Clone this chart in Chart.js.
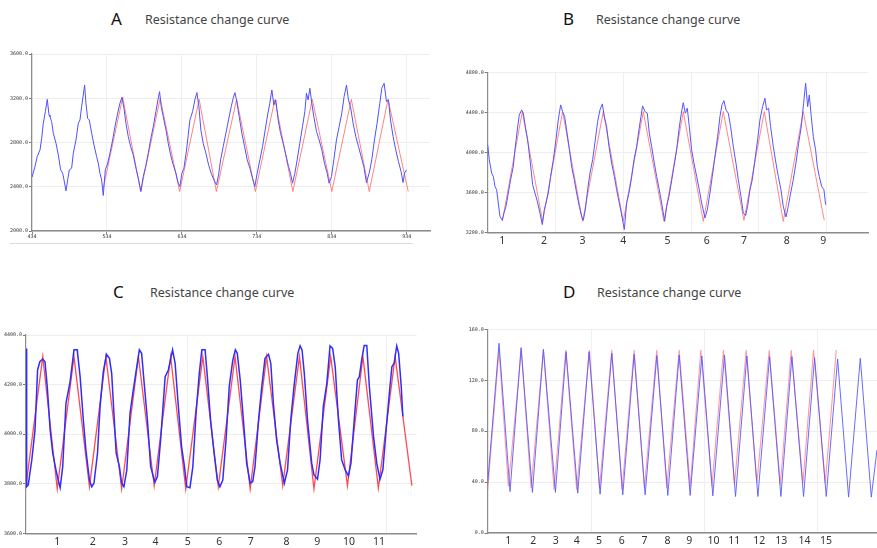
<!DOCTYPE html>
<html lang="en">
<head>
<meta charset="utf-8">
<title>Resistance change curve</title>
<style>
  body { margin: 0; background: #fff; width: 877px; height: 548px; position: relative; overflow: hidden; }
  canvas { position: absolute; }
  .letter { position: absolute; font-family: "Noto Sans", sans-serif; font-size: 17px; line-height: 20px; color: #111; }
  .title { position: absolute; font-family: "Noto Sans", sans-serif; font-size: 12.5px; line-height: 16px; color: #444; white-space: nowrap; }
  .rule { position: absolute; height: 1px; background: #dcdcdc; }
</style>
</head>
<body>

<div class="letter" style="left:111px; top:9px;">A</div>
<div class="title" style="left:145px; top:12px;">Resistance change curve</div>
<div class="letter" style="left:563px; top:9px;">B</div>
<div class="title" style="left:596px; top:12px;">Resistance change curve</div>
<div class="letter" style="left:113px; top:282px;">C</div>
<div class="title" style="left:150px; top:285px;">Resistance change curve</div>
<div class="letter" style="left:563px; top:282px;">D</div>
<div class="title" style="left:597px; top:285px;">Resistance change curve</div>

<canvas id="chartA" width="436" height="206" style="left:0; top:44px;"></canvas>
<div class="rule" style="left:10px; top:243px; width:403px;"></div>
<canvas id="chartB" width="417" height="195" style="left:460px; top:60px;"></canvas>
<canvas id="chartC" width="436" height="223" style="left:0; top:325px;"></canvas>
<canvas id="chartD" width="417" height="228" style="left:460px; top:320px;"></canvas>

<script src="https://cdn.jsdelivr.net/npm/chart.js"></script>
<script>
// ---- panel A ----
var aTicksX = [434, 534, 634, 734, 834, 934];
var aTicksY = [2000, 2400, 2800, 3200, 3600];
var aBlueX = [434,438,441,444.7,446.9,449.1,451.8,454.4, 456.7,458,460.2,462.4,466,469.1,472.2,474.9,476.7,479.3,
  481.6,483.8,486.9,489.1,492.7,495.8,498,500.2,502.4,504.2, 506,508.2,510.4,513.6,516.7,520.2,522.4,524.7,526.9,529.1,
  531.8,534.4,538,541.6,544.7,547.8,551.3,554, 556.7,559.3,562.4,565.6,569.1,572.7,575.8,579.3,
  582.4,585.6,589.1,592.2,595.8,599.3,602,604.2, 606.4,609.1,612.7,615.8,618.9,622.4,626,629.1,631.3,
  634,636.7,640.2,644.7,648.2,651.3,654, 656.7,659.3,662.4,666,669.6,673.1,676.7,680.2,
  682.9,685.6,689.1,692.7,696.2,699.8,702.4,704.7, 706.9,710.4,714,717.6,721.1,724.7,728.2,731.3,
  734.4,738,741.6,745.1,748.7,751.3,754, 756.7,759.3,762.4,765.6,769.1,772.7,776.2,778.9,781.6,
  784.7,787.8,791.3,794.9,798,800.2,802.4,804.7, 807.3,810,813.6,817.1,820.7,824.2,827.8,830.4,
  833.6,836.7,840.2,843.8,847.3,850.4,853.6, 856.2,858.9,862.4,866,869.6,873.1,876.7,880.2,
  883.8,887.3,890.9,894.4,898,900.7,903.8, 906.9,909.6,912.3,915.8,919.3,922.9,926.4,929.1,930.9,933.6];
var aBlueY = [2486,2583,2673,2733,2838,2974,3079,3190, 3049,3034,2989,2884,2793,2688,2553,2522,2462,2363,
  2462,2553,2568,2703,2823,2974,3004,3124,3230,3320, 3155,3019,3004,2884,2778,2673,2613,2522,2462,2321,
  2553,2598,2703,2823,2944,3049,3155,3209, 3109,2974,2854,2763,2688,2568,2477,2357,
  2492,2583,2703,2823,2944,3079,3185,3260, 3124,3034,2914,2793,2688,2598,2522,2432,2402,
  2522,2568,2733,3004,3079,3185,3251, 3124,2914,2793,2703,2598,2522,2462,2417,
  2507,2643,2763,2884,3004,3124,3200,3251, 3185,3034,2884,2763,2643,2568,2477,2402,
  2522,2643,2763,2914,3064,3155,3275, 3140,3185,3004,2884,2793,2688,2583,2522,2432,
  2522,2643,2793,2944,3079,3245,3185,3290, 3155,3034,2899,2823,2733,2613,2522,2432,
  2492,2643,2823,2944,3064,3215,3320, 3185,3124,2974,2854,2763,2673,2583,2438,
  2522,2643,2823,2974,3155,3290,3335, 3170,3185,3004,2854,2733,2628,2537,2438,2522,2553];
var aRedX = [529,555,579,605,631,657,680,707,732,758,782,808,834,860,884,909,936];
var aRedY = [2387,3209,2357,3200,2357,3190,2357,3190,2357,3190,2357,3190,2357,3190,2357,3190,2357];

// ---- panel B ----
var bTicksY = [3200, 3600, 4000, 4400, 4800];
var bGridX = [100, 200, 300, 400, 500];
var bLabelX = [21.5, 83, 140, 200, 265.4, 323, 378, 441, 495];
var bLabels = ['1', '2', '3', '4', '5', '6', '7', '8', '9'];
var bBlueX = [0,2.4,5.8,8.3,10.7,13.2,15.6,18.1,21.5, 24,27,30.4,33.8,37.8,40.2,43.7,46.6,50.1,
  52.5,55.5,58.9,62.4,66.3,69.7,73.2,77.1,80.5, 83.5,86,89.4,92.8,96.8,100.7,104.1,107.6,
  110.5,113.5,116.4,119.9,123.8,127.7,131.2,135.1,138.6,141, 144,147.4,150.9,154.8,158.7,162.2,165.6,169.1,
  172,175.4,178.9,182.8,186.8,190.2,193.6,197.1,201.5, 205,208.4,211.8,215.8,219.7,223.1,226.1,228.5,
  232,235.4,238.4,241.8,245.8,249.2,253.1,256.6,261, 264,267.4,270.8,274.8,278.7,282.1,285.6,288.5,
  291.5,294.4,297.4,300.8,304.3,308.2,312.1,315.6,320.5, 324,327.9,331.3,335.2,339.2,342.6,345.6,348.5,
  351.5,354.9,358.3,362.3,366.2,369.7,373.6,377,380.5, 383.4,386.9,390.3,394.2,398.2,401.6,405.5,409,
  411.4,414.4,417.3,421.3,425.2,428.7,432.6,436,440, 443.4,446.9,450.8,454.7,458.7,462.6,466,469,
  472,474.4,477.3,480.3,483.7,486.2,489.1,492.6,496,498.5];
var bBlueY = [4077,3927,3794,3760,3660,3627,3494,3360,3320, 3394,3460,3594,3727,3860,4027,4227,4377,4427,
  4394,4260,4127,3927,3677,3594,3510,3394,3277, 3427,3494,3594,3760,3927,4127,4327,4477,
  4410,4360,4227,4060,3860,3727,3594,3460,3360,3320, 3427,3627,3794,3927,4127,4310,4427,4487,
  4360,4260,4060,3894,3760,3627,3510,3394,3227, 3494,3594,3727,3927,4060,4227,4360,4467,
  4410,4394,4194,4060,3894,3760,3627,3494,3310, 3460,3560,3694,3860,4027,4227,4394,4500,
  4394,4444,4260,4027,3894,3760,3627,3494,3344, 3427,3594,3760,3960,4160,4360,4477,4520,
  4427,4394,4260,4060,3894,3727,3560,3394,3367, 3460,3627,3727,3927,4127,4327,4460,4544,
  4427,4444,4260,4060,3894,3760,3627,3460,3354, 3460,3594,3727,3894,4094,4260,4494,4694,
  4460,4577,4360,4160,4027,3860,3760,3660,3627,3477];
var bRedX = [21.5,51,81,110.5,140,170.5,200,229.5,260,288.5,318,347.5,378,408,436,465.5,496.5];
var bRedY = [3310,4410,3310,4410,3310,4410,3310,4410,3310,4410,3310,4410,3320,4410,3310,4410,3320];

// ---- panel C ----
var cTicksY = [3600, 3800, 4000, 4200, 4400];
var cGridX = [5.01, 11.2];
var cLabelX = [0.97, 2.07, 3.07, 4.02, 5.02, 6.0, 6.98, 8.09, 9.04, 10.03, 10.96];
var cLabels = ['1', '2', '3', '4', '5', '6', '7', '8', '9', '10', '11'];
var cBlueX = [0,0.02,0.07,0.18,0.28,0.36,0.43,0.52,0.59,0.66,0.75,0.83,0.93,1.0,1.06,
  1.14,1.24,1.37,1.49,1.59,1.68,1.78,1.86,1.97,2.04,
  2.11,2.22,2.3,2.4,2.5,2.59,2.66,2.8,2.9,2.97,3.04,
  3.13,3.23,3.33,3.44,3.52,3.59,3.66,3.77,3.87,4.0,
  4.08,4.18,4.32,4.42,4.55,4.63,4.73,4.83,4.92,4.99,5.09,
  5.18,5.28,5.38,5.46,5.56,5.63,5.73,5.84,5.94,6.02,
  6.11,6.21,6.31,6.42,6.5,6.56,6.65,6.75,6.85,6.96,7.04,
  7.11,7.22,7.32,7.42,7.53,7.6,7.68,7.78,7.89,8.02,
  8.12,8.22,8.32,8.44,8.51,8.57,8.64,8.74,8.87,8.94,9.05,
  9.13,9.23,9.34,9.44,9.52,9.6,9.7,9.8,9.91,10.01,
  10.09,10.19,10.29,10.35,10.42,10.5,10.58,10.66,10.79,10.89,10.99,
  11.08,11.18,11.28,11.36,11.43,11.51,11.57,11.65,11.7];
var cBlueY = [4346,3788,3795,3896,4017,4259,4292,4303,4292,4192,4017,3923,3856,3815,3784,
  3869,4124,4212,4340,4340,4232,4057,3936,3815,3788,
  3802,3923,4111,4252,4322,4306,4245,3923,3869,3802,3788,
  3856,4084,4178,4272,4340,4326,4219,4057,3869,3806,
  3829,3977,4232,4259,4340,4286,4111,3950,3869,3788,3784,
  3869,4084,4245,4340,4340,4232,4057,3923,3815,3788,
  3815,3977,4192,4299,4340,4326,4219,4057,3883,3802,3809,
  3869,4057,4192,4306,4322,4286,4124,3977,3883,3802,
  3856,4057,4192,4326,4356,4340,4245,4057,3883,3836,3818,
  3896,4111,4205,4356,4346,4272,4057,3896,3856,3831,
  3883,4057,4219,4232,4299,4358,4358,4192,3990,3883,3818,
  3856,4017,4165,4272,4286,4356,4326,4192,4071];
var cRedX = [0,0.52,0.97,1.49,1.97,2.48,2.97,3.49,3.98,4.49,4.96,5.49,5.97,6.49,6.96,7.47,7.97,8.49,8.94,9.46,9.98,10.46,10.94,11.46,11.98];
var cRedY = [3792,4313,3779,4313,3788,4313,3779,4313,3792,4313,3779,4313,3788,4313,3779,4313,3792,4313,3779,4313,3792,4313,3782,4313,3792];

// ---- panel D ----
var dTicksY = [0, 40, 80, 120, 160];
var dGridX = [4.58, 9.6, 14.61];
var dLabelX = [0.91, 2.02, 3.01, 3.94, 4.93, 5.94, 6.94, 7.96, 8.93, 10.0, 10.92, 12.03, 13.0, 14.03, 14.98];
var dLabels = ['1', '2', '3', '4', '5', '6', '7', '8', '9', '10', '11', '12', '13', '14', '15'];
var dBlueX = [0, 0.502,0.99, 1.477,1.98, 2.467,3.0, 3.471,3.988, 4.49,4.978, 5.495,5.982, 6.485,6.972, 7.489,7.976,
  8.479,8.966, 9.483,9.97, 10.487,10.975, 11.477,11.965, 12.482,12.984, 13.471,13.988, 14.476,14.993, 15.495,15.982, 16.5,16.987, 17.24];
var dBlueY = [39.2, 149,32.6, 145.6,31.9, 144.3,31.9, 142.4,31.3, 142.4,30.5, 141.1,30, 140.3,30, 139.3,29.5,
  139.8,29.5, 139,29.2, 139.8,28.7, 139,28.7, 138.5,28.7, 138.5,28.7, 137.7,28.7, 136.7,28.2, 137.2,28.2, 65.3];
var dRedX = [0,0.502,0.916,1.492,1.92,2.467,2.94,3.456,3.94,4.505,4.95,5.495,5.95,6.485,6.94,7.489,7.93,8.479,8.97,9.439,
  9.93,10.443,10.93,11.448,11.92,12.467,12.96,13.442,13.96,14.431,14.95,15.436];
var dRedY = [33.9,143.7,36.6,143.7,35.3,143.7,34,143.7,34,143.7,35.3,143.7,34,143.7,35.3,143.7,35.3,143.7,36.6,143.7,
  36.6,143.7,37.9,143.7,39.2,143.7,37.9,143.7,39.2,143.7,39.2,143.7];

function pts(xs, ys) {
  return xs.map(function (x, i) { return { x: x, y: ys[i] }; });
}

var tiny = { family: 'DejaVu Sans Mono', size: 5 };
var numFont = { family: 'Noto Sans', size: 10.5 };

function panel(id, o) {
  var scales = {
    x: {
      type: 'linear', min: o.xMin, max: o.xMax,
      afterBuildTicks: function (a) { a.ticks = o.gridX.map(function (v) { return { value: v }; }); },
      afterFit: function (a) { a.height = o.xHeight; },
      grid: { color: '#efefef', drawTicks: !!o.xTickLabels, tickLength: 3, tickColor: '#888' },
      border: { color: '#8c8c8c', width: 1.5 },
      ticks: { display: !!o.xTickLabels, font: tiny, color: '#333', padding: 0, maxRotation: 0, autoSkip: false,
               callback: function (v) { return String(v); } }
    },
    y: {
      min: o.yMin, max: o.yMax,
      afterBuildTicks: function (a) { a.ticks = o.ticksY.map(function (v) { return { value: v }; }); },
      afterFit: function (a) { a.width = o.yWidth; },
      grid: { color: '#eeeeee', tickLength: 3, tickColor: '#777' },
      border: { color: '#8c8c8c', width: 1.2 },
      ticks: { font: tiny, color: '#333', padding: 1, callback: function (v) { return v.toFixed(1); } }
    }
  };
  if (o.labelX) {
    scales.x2 = {
      type: 'linear', position: 'bottom', min: o.xMin, max: o.xMax,
      afterBuildTicks: function (a) { a.ticks = o.labelX.map(function (v) { return { value: v }; }); },
      afterFit: function (a) { a.height = o.labelHeight; },
      grid: { display: false, drawTicks: false },
      border: { display: false },
      ticks: { font: numFont, color: '#333', padding: o.labelPad, maxRotation: 0, autoSkip: false,
               callback: function (v, i) { return o.labels[i]; } }
    };
  }
  new Chart(document.getElementById(id), {
    type: 'line',
    data: {
      datasets: [
        { data: pts(o.blueX, o.blueY), borderColor: o.blue, borderWidth: o.blueW, pointRadius: 0, tension: 0 },
        { data: pts(o.redX, o.redY), borderColor: o.red, borderWidth: o.redW, pointRadius: 0, tension: 0 }
      ]
    },
    options: {
      responsive: false,
      animation: false,
      layout: { padding: o.pad },
      plugins: { legend: { display: false }, tooltip: { enabled: false } },
      scales: scales
    }
  });
}

panel('chartA', {
  xMin: 434, xMax: 965, yMin: 2000, yMax: 3600, gridX: aTicksX, ticksY: aTicksY,
  xTickLabels: true, xHeight: 19, yWidth: 32, pad: { top: 10, right: 6, left: 0, bottom: 0 },
  blueX: aBlueX, blueY: aBlueY, redX: aRedX, redY: aRedY,
  blue: 'rgb(80,80,255)', blueW: 1, red: 'rgba(255,110,110,0.85)', redW: 1
});

panel('chartB', {
  xMin: 0, xMax: 561, yMin: 3200, yMax: 4800, gridX: bGridX, ticksY: bTicksY,
  xHeight: 0, yWidth: 27.7, pad: { top: 12.7, right: 9, left: 0, bottom: 0 },
  labelX: bLabelX, labels: bLabels, labelHeight: 22.7, labelPad: 2,
  blueX: bBlueX, blueY: bBlueY, redX: bRedX, redY: bRedY,
  blue: 'rgb(85,85,255)', blueW: 1, red: 'rgba(255,115,115,0.85)', redW: 1
});

panel('chartC', {
  xMin: 0, xMax: 12.13, yMin: 3600, yMax: 4400, gridX: cGridX, ticksY: cTicksY,
  xHeight: 0, yWidth: 26, pad: { top: 10, right: 19.3, left: 0, bottom: 0 },
  labelX: cLabelX, labels: cLabels, labelHeight: 14.7, labelPad: 2,
  blueX: cBlueX, blueY: cBlueY, redX: cRedX, redY: cRedY,
  blue: 'rgb(45,45,255)', blueW: 1.5, red: 'rgba(255,55,65,0.9)', redW: 1.3
});

panel('chartD', {
  xMin: 0, xMax: 17.24, yMin: 0, yMax: 160, gridX: dGridX, ticksY: dTicksY,
  xHeight: 0, yWidth: 27.7, pad: { top: 9.3, right: 0, left: 0, bottom: 0 },
  labelX: dLabelX, labels: dLabels, labelHeight: 15, labelPad: 2,
  blueX: dBlueX, blueY: dBlueY, redX: dRedX, redY: dRedY,
  blue: 'rgba(90,90,255,0.9)', blueW: 1, red: 'rgba(255,130,140,0.8)', redW: 1.1
});
</script>
</body>
</html>
